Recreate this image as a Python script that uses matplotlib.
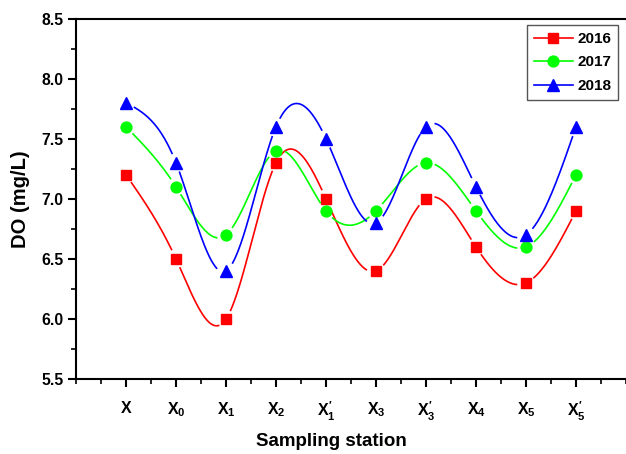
import numpy as np
import matplotlib
matplotlib.use("Agg")
import matplotlib.pyplot as plt
from matplotlib.ticker import MultipleLocator, FixedLocator

plt.rcParams['font.family'] = ['Liberation Sans', 'DejaVu Sans']
plt.rcParams['font.weight'] = 'bold'
plt.rcParams['mathtext.fontset'] = 'custom'
plt.rcParams['mathtext.rm'] = 'Liberation Sans:bold'
plt.rcParams['mathtext.it'] = 'Liberation Sans:bold'
plt.rcParams['mathtext.bf'] = 'Liberation Sans:bold'

stations = [r'$X$', r'$X_0$', r'$X_1$', r'$X_2$', r"$X_1^{\prime}$",
            r'$X_3$', r"$X_3^{\prime}$", r'$X_4$', r'$X_5$', r"$X_5^{\prime}$"]
do_2016 = [7.2, 6.5, 6.0, 7.3, 7.0, 6.4, 7.0, 6.6, 6.3, 6.9]
do_2017 = [7.6, 7.1, 6.7, 7.4, 6.9, 6.9, 7.3, 6.9, 6.6, 7.2]
do_2018 = [7.8, 7.3, 6.4, 7.6, 7.5, 6.8, 7.6, 7.1, 6.7, 7.6]
years = ['2016', '2017', '2018']


def natural_spline(x, y, xs):
    x = np.asarray(x, float)
    y = np.asarray(y, float)
    n = len(x)
    h = np.diff(x)
    A = np.zeros((n, n))
    b = np.zeros(n)
    A[0, 0] = 1
    A[-1, -1] = 1
    for i in range(1, n - 1):
        A[i, i - 1] = h[i - 1]
        A[i, i] = 2 * (h[i - 1] + h[i])
        A[i, i + 1] = h[i]
        b[i] = 6 * ((y[i + 1] - y[i]) / h[i] - (y[i] - y[i - 1]) / h[i - 1])
    M = np.linalg.solve(A, b)
    idx = np.clip(np.searchsorted(x, xs) - 1, 0, n - 2)
    x0, x1 = x[idx], x[idx + 1]
    hh = x1 - x0
    t0 = x1 - xs
    t1 = xs - x0
    return (M[idx] * t0 ** 3 / (6 * hh) + M[idx + 1] * t1 ** 3 / (6 * hh)
            + (y[idx] / hh - M[idx] * hh / 6) * t0
            + (y[idx + 1] / hh - M[idx + 1] * hh / 6) * t1)


fig = plt.figure(figsize=(6.26, 4.54), dpi=100)
ax = fig.add_axes([0.1214, 0.165, 0.8786, 0.794])
ax.set_xlim(0, 11)
ax.set_ylim(5.5, 8.5)

xpos = np.arange(1, len(stations) + 1)
xs = np.linspace(1, len(stations), 900)
gap = 9.5  # pixels left blank around each marker

series = [(do_2016, 'red', 's', 7.3), (do_2017, '#00ff00', 'o', 7.8), (do_2018, 'blue', '^', 8.8)]
for (vals, col, mk, ms), yr in zip(series, years):
    ys = natural_spline(xpos, vals, xs)
    pts = ax.transData.transform(np.column_stack([xs, ys]))
    mks = ax.transData.transform(np.column_stack([xpos, vals]))
    d = np.min(np.hypot(pts[:, None, 0] - mks[None, :, 0],
                        pts[:, None, 1] - mks[None, :, 1]), axis=1)
    ys_m = np.where(d < gap, np.nan, ys)
    ax.plot(xs, ys_m, color=col, lw=1.2)
    ax.plot(xpos, vals, ls='none', marker=mk, ms=ms, color=col, mec=col)
    ax.plot([], [], color=col, lw=1.2, marker=mk, ms=ms, label=yr)

ax.xaxis.set_major_locator(FixedLocator(xpos))
ax.set_xticklabels(stations)
ax.xaxis.set_minor_locator(MultipleLocator(0.5))
ax.yaxis.set_major_locator(MultipleLocator(0.5))
ax.yaxis.set_minor_locator(MultipleLocator(0.25))
ax.yaxis.set_major_formatter(plt.FormatStrFormatter('%.1f'))
ax.tick_params(which='major', direction='out', length=6, width=1.5, labelsize=11.3, pad=3)
ax.tick_params(axis='x', which='major', labelsize=11.5, pad=9)
ax.tick_params(which='minor', direction='out', length=3.5, width=1.2)
for s in ax.spines.values():
    s.set_linewidth(1.5)
ax.spines['right'].set_visible(False)

ax.set_xlabel('Sampling station', fontsize=13.5, fontweight='bold', labelpad=7, x=0.465)
ax.set_ylabel('DO (mg/L)', fontsize=14.5, fontweight='bold', labelpad=8)

leg = ax.legend(loc='upper right', bbox_to_anchor=(0.9855, 0.982), borderaxespad=0,
                fontsize=11, handlelength=2.5, handletextpad=0.3,
                fancybox=False, framealpha=1, edgecolor='#555555',
                borderpad=0.45, labelspacing=0.62)
leg.get_frame().set_linewidth(1.0)

fig.savefig('out.png', dpi=100)
